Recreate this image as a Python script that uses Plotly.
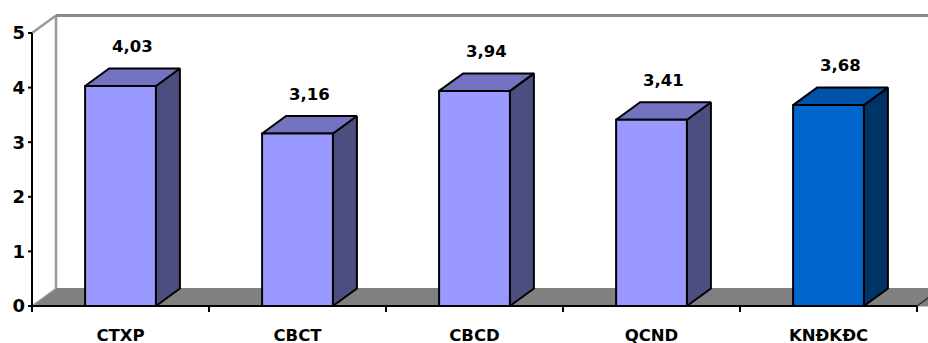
import plotly.graph_objects as go

# Data
categories = ["CTXP", "CBCT", "CBCD", "QCND", "KNĐKĐC"]
scores = [4.03, 3.16, 3.94, 3.41, 3.68]
y_ticks = [0, 1, 2, 3, 4, 5]

# Face colours (front, top, side) for each bar
lavender = ("#9999FF", "#7373C2", "#4D4D80")
blue = ("#0066CC", "#0053A8", "#003366")
bar_styles = [lavender, lavender, lavender, lavender, blue]

# Layout geometry (pixels per axis unit and pseudo-3D depth)
W, H = 928, 343
PX_X = 177.0          # pixels per category
PX_Y = 54.6           # pixels per score unit
LEFT, BOTTOM, TOP = 26, 29, 0
DX = 24 / PX_X        # depth offset in category units
DY = 17.5 / PX_Y      # depth offset in score units
HALF = 0.2            # half bar width
YMAX = 5

x_lo = -0.5 - (32 - LEFT) / PX_X
x_hi = x_lo + (W - LEFT) / PX_X
y_lo = -((H - BOTTOM) - 306) / PX_Y
y_hi = y_lo + (H - BOTTOM - TOP) / PX_Y

n = len(categories)
x_left, x_right = -0.5, n - 0.5

fig = go.Figure()


def poly(xs, ys, fill, line_color, width):
    fig.add_trace(go.Scatter(
        x=xs + [xs[0]], y=ys + [ys[0]], mode="lines", fill="toself",
        fillcolor=fill, line=dict(color=line_color, width=width),
        hoverinfo="skip", showlegend=False))


def seg(xs, ys, color, width):
    fig.add_trace(go.Scatter(
        x=xs, y=ys, mode="lines", line=dict(color=color, width=width),
        hoverinfo="skip", showlegend=False, connectgaps=False))


# Floor
poly([x_left, x_right + 1, x_right + 1 + DX, x_left + DX],
     [0, 0, DY, DY], "#808080", "#808080", 1)
seg([x_right, x_right + DX], [0, DY], "#333333", 1.5)

# Back wall outline
seg([x_left, x_left + DX, x_left + DX], [YMAX, YMAX + DY, DY], "#999999", 2.5)
seg([x_left + DX, x_right + 2], [YMAX + DY, YMAX + DY], "#8A8A8A", 3)
seg([x_left, x_left + DX], [0, DY], "#9A9A9A", 1.5)

# Bars
for i, (v, (front, top, side)) in enumerate(zip(scores, bar_styles)):
    x0, x1 = i - HALF, i + HALF
    poly([x1, x1 + DX, x1 + DX, x1], [0, DY, v + DY, v], side, "black", 2)
    poly([x0, x1, x1 + DX, x0 + DX], [v, v, v + DY, v + DY], top, "black", 2)
    poly([x0, x1, x1, x0], [0, 0, v, v], front, "black", 2)
    fig.add_annotation(
        x=i + DX / 2, y=v + 0.72, text=f"{v:.2f}".replace(".", ","),
        showarrow=False, xanchor="center", yanchor="middle",
        font=dict(family="DejaVu Sans", size=16.5, color="black", weight="bold"))

# Axis lines and tick marks
tick_len_x = 4 / PX_X
tick_len_y = 6 / PX_Y
seg([x_left, x_left], [0, YMAX], "black", 2)
seg([x_left, x_right], [0, 0], "black", 2)
yt_x, yt_y = [], []
for t in y_ticks:
    yt_x += [x_left - tick_len_x, x_left, None]
    yt_y += [t, t, None]
seg(yt_x, yt_y, "black", 2)
xt_x, xt_y = [], []
for k in range(n + 1):
    b = k - 0.5
    xt_x += [b, b, None]
    xt_y += [0, -tick_len_y, None]
seg(xt_x, xt_y, "black", 2)

fig.update_layout(
    width=W, height=H,
    margin=dict(l=LEFT, r=0, t=TOP, b=BOTTOM, pad=0, autoexpand=False),
    paper_bgcolor="white", plot_bgcolor="white",
    xaxis=dict(range=[x_lo, x_hi], tickvals=list(range(n)), ticktext=categories,
               ticks="", showgrid=False, zeroline=False, showline=False,
               automargin=False,
               tickfont=dict(family="DejaVu Sans", size=16.5, color="black", weight="bold"),
               ticklabelstandoff=9, fixedrange=True),
    yaxis=dict(range=[y_lo, y_hi], tickvals=y_ticks, ticks="", showgrid=False,
               zeroline=False, showline=False, automargin=False,
               tickfont=dict(family="DejaVu Sans", size=18, color="black", weight="bold"),
               ticklabelstandoff=0, fixedrange=True),
    showlegend=False,
)

fig.write_html("out.html")
